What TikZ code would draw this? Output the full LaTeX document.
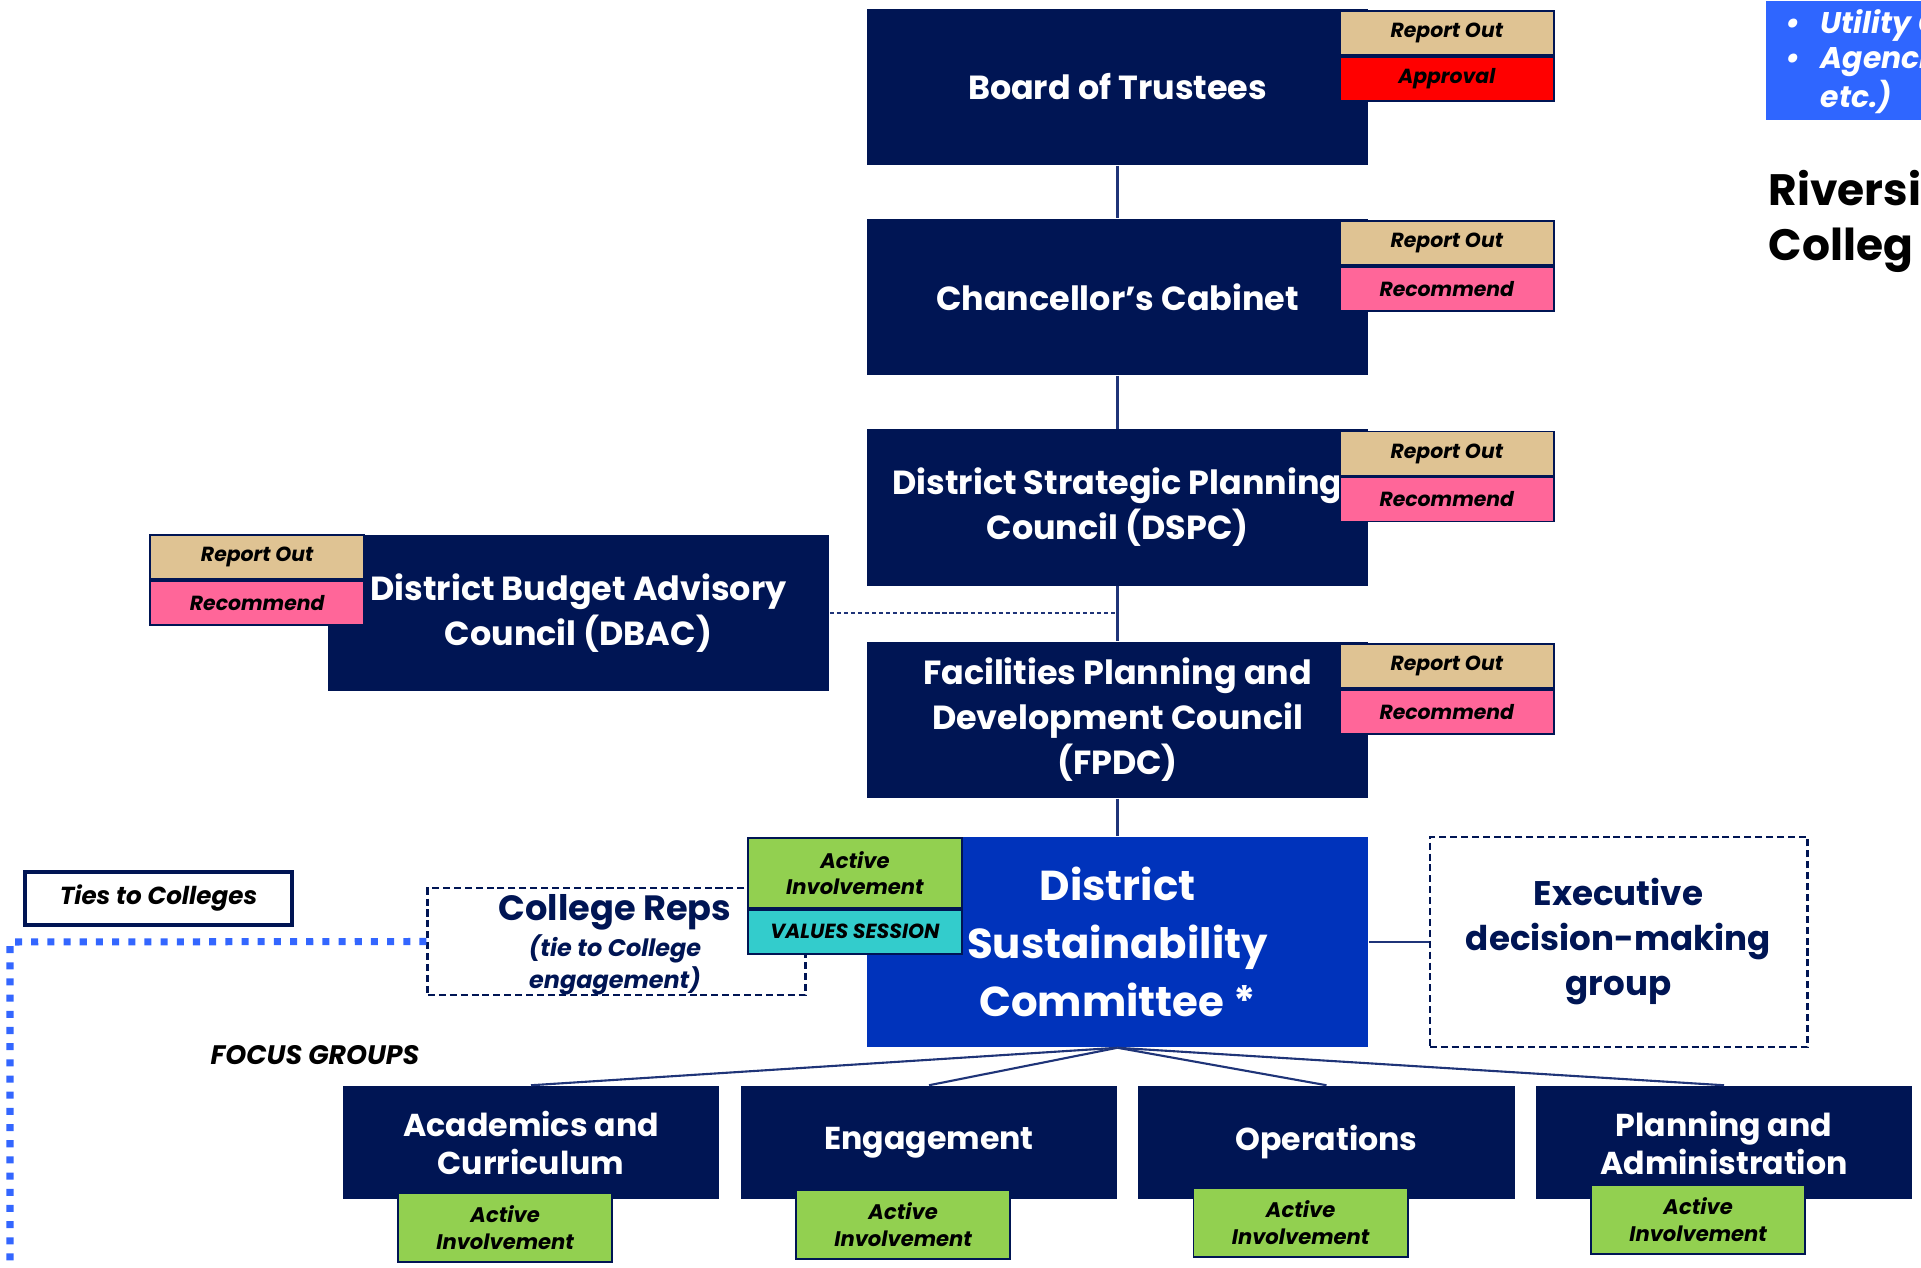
\documentclass[tikz,border=0pt]{standalone}
\usepackage{fontspec}
\setmainfont{Poppins}
\usetikzlibrary{positioning}

\tikzset{
  body/.style={fill=my_navy, text=white, align=center, inner sep=0pt,
    minimum width=5.01cm, minimum height=1.56cm,
    font=\bfseries\fontsize{9.5}{12.8}\selectfont},
  focus/.style={body, minimum width=3.76cm, minimum height=1.13cm,
    font=\bfseries\fontsize{9}{10.8}\selectfont},
  tag/.style={draw=my_navy, line width=0.5pt, inner sep=0pt, align=center,
    minimum width=2.14cm, minimum height=0.44cm,
    font=\bfseries\itshape\fontsize{5.8}{7.3}\selectfont},
  link/.style={my_line, line width=0.6pt},
  dashbox/.style={draw=my_navy, line width=0.8pt, dash pattern=on 2pt off 1.1pt,
    align=center, inner sep=0pt},
}

\begin{document}
\begin{tikzpicture}[x=0.01cm, y=-0.01cm]
\definecolor{my_navy}{RGB}{0,21,84}
\definecolor{my_line}{RGB}{31,52,120}
\definecolor{my_blue}{RGB}{0,51,187}
\definecolor{my_bright}{RGB}{47,102,255}
\definecolor{my_dots}{RGB}{51,102,255}
\definecolor{my_tan}{RGB}{223,195,147}
\definecolor{my_red}{RGB}{255,0,0}
\definecolor{my_pink}{RGB}{255,102,153}
\definecolor{my_green}{RGB}{146,208,80}
\definecolor{my_teal}{RGB}{51,204,204}

\useasboundingbox (0,0) rectangle (1921,1268);
\clip (0,0) rectangle (1921,1268);

% main chain
\node[body] (board) at (1117.5,87) {Board of Trustees};
\node[body] (cabinet) at (1117.5,297) {Chancellor's Cabinet};
\node[body] (dspc) at (1117.5,507.5) {District Strategic Planning\\Council (DSPC)};
\node[body] (fpdc) at (1117.5,720) {Facilities Planning and\\Development Council\\(FPDC)};
\node[body] (dbac) at (578.5,613) {District Budget Advisory\\Council (DBAC)};
\node[body, fill=my_blue, minimum height=2.1cm, font=\bfseries\fontsize{11.9}{16.5}\selectfont]
  (dsc) at (1117.5,942) {District\\Sustainability\\Committee *};

\draw[link] (board) -- (cabinet);
\draw[link] (cabinet) -- (dspc);
\draw[link] (dspc) -- (fpdc);
\draw[link] (fpdc) -- (dsc);
\coordinate (mid) at (dbac.east -| fpdc.north);
\draw[link, line width=0.4pt, dash pattern=on 1.2pt off 0.8pt] (dbac.east) -- (mid);

% report out / decision tags
\foreach \unit/\lab/\col in {board/Approval/my_red, cabinet/Recommend/my_pink,
    dspc/Recommend/my_pink, fpdc/Recommend/my_pink} {
  \node[tag, fill=my_tan, anchor=north west] (\unit-ro) at ([shift={(-30,2)}]\unit.north east) {Report Out};
  \node[tag, fill=\col, anchor=north] (\unit-rc) at (\unit-ro.south) {\lab};
}
\node[tag, fill=my_tan, anchor=north east] (dbac-ro) at ([shift={(38,0)}]dbac.north west) {Report Out};
\node[tag, fill=my_pink, anchor=north] (dbac-rc) at (dbac-ro.south) {Recommend};

% side groups
\node[dashbox, minimum width=3.77cm, minimum height=2.1cm, text=my_navy,
  font=\bfseries\fontsize{9.7}{12.8}\selectfont] (exec) at (1618.5,942)
  {Executive\\decision-making\\group};
\draw[link] (dsc.east) -- (exec.west);

\node[dashbox, minimum width=3.77cm, minimum height=1.07cm] (creps) at (616.5,941.5) {};
\node[text=my_navy, font=\bfseries\fontsize{10}{12}\selectfont] (creps-t) at (615,912) {College Reps};
\node[text=my_navy, align=center, font=\bfseries\itshape\fontsize{6.8}{9}\selectfont]
  (creps-s) at (615,965) {(tie to College\\engagement)};

\node[tag, fill=my_green, minimum height=0.7cm, font=\bfseries\itshape\fontsize{6}{7.4}\selectfont,
  anchor=north west] (dsc-ai) at (747,837) {Active\\Involvement};
\node[tag, fill=my_teal, anchor=north] (dsc-vs) at (dsc-ai.south) {VALUES SESSION};

\node[draw=my_navy, line width=0.9pt, fill=white, minimum width=2.67cm, minimum height=0.53cm,
  font=\bfseries\itshape\fontsize{7}{8}\selectfont] (ties) at (158.5,898.5) {Ties to Colleges};
\coordinate (corner) at (10,942);
\coordinate (bottom) at (10,1268);
\draw[my_dots, line width=2pt, dash pattern=on 2pt off 2.6pt] (creps.west) -- (corner) -- (bottom);

% focus groups
\node[font=\bfseries\itshape\fontsize{7.6}{9}\selectfont] (fgroups) at (315,1055) {FOCUS GROUPS};
\foreach \name/\x/\dy/\txt in {acad/531/7/Academics and\\Curriculum, engage/929/10/Engagement,
    oper/1326.5/12/Operations, plan/1724/15/Planning and\\Administration} {
  \node[focus] (\name) at (\x,1142.5) {\txt};
  \draw[link] (dsc.south) -- (\name.north);
  \node[tag, fill=my_green, minimum height=0.68cm, font=\bfseries\itshape\fontsize{6}{7.4}\selectfont,
    anchor=north west] (\name-ai) at ([shift={(55,-\dy)}]\name.south west) {Active\\Involvement};
}

% partners box and college title, cut by the page edge
\node[fill=my_bright, anchor=north west, minimum width=1.8cm, minimum height=1.19cm] (partners) at (1765,0) {};
\node[text=white, anchor=north west, align=left, inner sep=0pt,
  font=\bfseries\itshape\fontsize{8.5}{9.96}\selectfont] (partners-t) at (1785,9)
  {\textbullet\hspace{0.2cm}Utility C\\\textbullet\hspace{0.2cm}Agenci\\\phantom{\textbullet}\hspace{0.2cm}etc.)};
\node[anchor=base west, inner sep=0pt, font=\bfseries\fontsize{12.5}{14}\selectfont] (rcc1) at (1768,206) {Riversid};
\node[anchor=base west, inner sep=0pt, font=\bfseries\fontsize{12.5}{14}\selectfont] (rcc2) at (1768,261) {Colleg};
\end{tikzpicture}
\end{document}
